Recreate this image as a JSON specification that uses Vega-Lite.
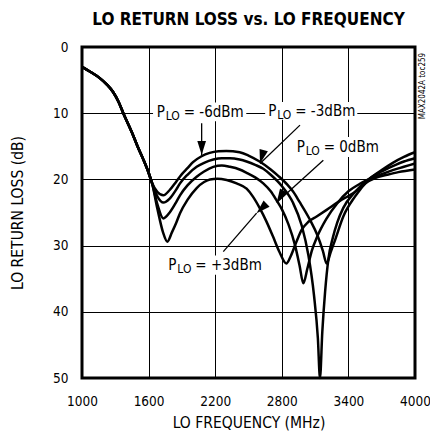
{
  "$schema": "https://vega.github.io/schema/vega-lite/v6.json",
  "width": 333,
  "height": 331,
  "autosize": {"type": "none"},
  "padding": {"left": 82, "top": 47, "right": 15, "bottom": 61},
  "background": "white",
  "title": {"text": "LO RETURN LOSS vs. LO FREQUENCY", "font": "DejaVu Sans Condensed", "fontSize": 17, "fontWeight": "bold", "color": "black", "anchor": "middle", "offset": 11},
  "config": {
    "font": "DejaVu Sans Condensed",
    "view": {"stroke": "black", "strokeWidth": 3},
    "axis": {"grid": true, "gridColor": "black", "gridOpacity": 1, "gridWidth": 1, "domain": false, "ticks": false, "labelFont": "DejaVu Sans Condensed", "labelFontSize": 13.5, "labelColor": "black", "titleFont": "DejaVu Sans Condensed", "titleFontSize": 15.5, "titleFontWeight": "normal", "titleColor": "black"}
  },
  "datasets": {
    "curves": [
      {"f":1000,"rl":3.0,"s":"-6"},{"f":1070,"rl":3.7,"s":"-6"},{"f":1160,"rl":4.7,"s":"-6"},{"f":1220,"rl":5.6,"s":"-6"},{"f":1280,"rl":6.8,"s":"-6"},{"f":1330,"rl":8.3,"s":"-6"},{"f":1372,"rl":10.0,"s":"-6"},{"f":1420,"rl":11.8,"s":"-6"},{"f":1462,"rl":13.4,"s":"-6"},{"f":1500,"rl":15.0,"s":"-6"},{"f":1550,"rl":16.9,"s":"-6"},{"f":1600,"rl":19.0,"s":"-6"},{"f":1630,"rl":20.5,"s":"-6"},
      {"f":1680,"rl":21.9,"s":"-6"},{"f":1733,"rl":22.4,"s":"-6"},{"f":1790,"rl":21.6,"s":"-6"},{"f":1850,"rl":20.3,"s":"-6"},{"f":1900,"rl":19.2,"s":"-6"},{"f":1950,"rl":18.3,"s":"-6"},{"f":2000,"rl":17.4,"s":"-6"},{"f":2077,"rl":16.5,"s":"-6"},{"f":2150,"rl":16.0,"s":"-6"},{"f":2230,"rl":15.75,"s":"-6"},{"f":2300,"rl":15.7,"s":"-6"},{"f":2420,"rl":15.9,"s":"-6"},{"f":2500,"rl":16.4,"s":"-6"},{"f":2600,"rl":17.3,"s":"-6"},{"f":2700,"rl":18.5,"s":"-6"},{"f":2770,"rl":19.5,"s":"-6"},{"f":2850,"rl":20.8,"s":"-6"},{"f":2900,"rl":21.8,"s":"-6"},{"f":2960,"rl":23.4,"s":"-6"},{"f":3054,"rl":26.1,"s":"-6"},{"f":3120,"rl":28.4,"s":"-6"},{"f":3170,"rl":30.8,"s":"-6"},{"f":3204,"rl":32.7,"s":"-6"},{"f":3240,"rl":31.0,"s":"-6"},{"f":3279,"rl":29.2,"s":"-6"},{"f":3354,"rl":25.6,"s":"-6"},{"f":3459,"rl":22.6,"s":"-6"},{"f":3580,"rl":20.1,"s":"-6"},{"f":3700,"rl":18.6,"s":"-6"},{"f":3800,"rl":17.5,"s":"-6"},{"f":3900,"rl":16.6,"s":"-6"},{"f":4000,"rl":15.9,"s":"-6"},

      {"f":1000,"rl":3.0,"s":"-3"},{"f":1070,"rl":3.7,"s":"-3"},{"f":1160,"rl":4.7,"s":"-3"},{"f":1220,"rl":5.6,"s":"-3"},{"f":1280,"rl":6.8,"s":"-3"},{"f":1330,"rl":8.3,"s":"-3"},{"f":1372,"rl":10.0,"s":"-3"},{"f":1420,"rl":11.8,"s":"-3"},{"f":1462,"rl":13.4,"s":"-3"},{"f":1500,"rl":15.0,"s":"-3"},{"f":1550,"rl":16.9,"s":"-3"},{"f":1600,"rl":19.0,"s":"-3"},{"f":1630,"rl":20.5,"s":"-3"},
      {"f":1680,"rl":22.6,"s":"-3"},{"f":1733,"rl":23.5,"s":"-3"},{"f":1790,"rl":22.9,"s":"-3"},{"f":1850,"rl":21.5,"s":"-3"},{"f":1883,"rl":20.6,"s":"-3"},{"f":1950,"rl":19.3,"s":"-3"},{"f":2033,"rl":18.1,"s":"-3"},{"f":2100,"rl":17.5,"s":"-3"},{"f":2183,"rl":17.0,"s":"-3"},{"f":2260,"rl":16.8,"s":"-3"},{"f":2333,"rl":16.8,"s":"-3"},{"f":2420,"rl":17.0,"s":"-3"},{"f":2483,"rl":17.3,"s":"-3"},{"f":2560,"rl":17.8,"s":"-3"},{"f":2633,"rl":18.4,"s":"-3"},{"f":2700,"rl":19.3,"s":"-3"},{"f":2800,"rl":21.0,"s":"-3"},{"f":2900,"rl":23.5,"s":"-3"},{"f":2980,"rl":27.0,"s":"-3"},{"f":3040,"rl":31.5,"s":"-3"},{"f":3090,"rl":37.5,"s":"-3"},{"f":3125,"rl":44.0,"s":"-3"},{"f":3144,"rl":50.0,"s":"-3"},{"f":3165,"rl":43.0,"s":"-3"},{"f":3190,"rl":37.0,"s":"-3"},{"f":3220,"rl":32.0,"s":"-3"},{"f":3260,"rl":28.8,"s":"-3"},{"f":3300,"rl":26.5,"s":"-3"},{"f":3354,"rl":24.3,"s":"-3"},{"f":3459,"rl":21.9,"s":"-3"},{"f":3580,"rl":20.0,"s":"-3"},{"f":3700,"rl":18.8,"s":"-3"},{"f":3800,"rl":18.0,"s":"-3"},{"f":3900,"rl":17.3,"s":"-3"},{"f":4000,"rl":16.8,"s":"-3"},

      {"f":1000,"rl":3.0,"s":"0"},{"f":1070,"rl":3.7,"s":"0"},{"f":1160,"rl":4.7,"s":"0"},{"f":1220,"rl":5.6,"s":"0"},{"f":1280,"rl":6.8,"s":"0"},{"f":1330,"rl":8.3,"s":"0"},{"f":1372,"rl":10.0,"s":"0"},{"f":1420,"rl":11.8,"s":"0"},{"f":1462,"rl":13.4,"s":"0"},{"f":1500,"rl":15.0,"s":"0"},{"f":1550,"rl":16.9,"s":"0"},{"f":1600,"rl":19.0,"s":"0"},{"f":1630,"rl":20.5,"s":"0"},
      {"f":1680,"rl":23.8,"s":"0"},{"f":1733,"rl":25.9,"s":"0"},{"f":1790,"rl":25.0,"s":"0"},{"f":1850,"rl":23.4,"s":"0"},{"f":1883,"rl":22.4,"s":"0"},{"f":1950,"rl":20.9,"s":"0"},{"f":2033,"rl":19.6,"s":"0"},{"f":2100,"rl":18.8,"s":"0"},{"f":2183,"rl":18.1,"s":"0"},{"f":2260,"rl":17.9,"s":"0"},{"f":2333,"rl":18.1,"s":"0"},{"f":2420,"rl":18.5,"s":"0"},{"f":2483,"rl":19.0,"s":"0"},{"f":2560,"rl":19.7,"s":"0"},{"f":2633,"rl":20.6,"s":"0"},{"f":2700,"rl":21.8,"s":"0"},{"f":2754,"rl":23.2,"s":"0"},{"f":2800,"rl":24.5,"s":"0"},{"f":2860,"rl":26.8,"s":"0"},{"f":2920,"rl":30.0,"s":"0"},{"f":2960,"rl":33.0,"s":"0"},{"f":2994,"rl":35.7,"s":"0"},{"f":3030,"rl":33.5,"s":"0"},{"f":3070,"rl":30.8,"s":"0"},{"f":3120,"rl":28.6,"s":"0"},{"f":3200,"rl":26.0,"s":"0"},{"f":3300,"rl":23.6,"s":"0"},{"f":3400,"rl":21.8,"s":"0"},{"f":3500,"rl":20.7,"s":"0"},{"f":3580,"rl":20.0,"s":"0"},{"f":3700,"rl":19.2,"s":"0"},{"f":3800,"rl":18.6,"s":"0"},{"f":3900,"rl":18.1,"s":"0"},{"f":4000,"rl":17.6,"s":"0"},

      {"f":1000,"rl":3.0,"s":"+3"},{"f":1070,"rl":3.7,"s":"+3"},{"f":1160,"rl":4.7,"s":"+3"},{"f":1220,"rl":5.6,"s":"+3"},{"f":1280,"rl":6.8,"s":"+3"},{"f":1330,"rl":8.3,"s":"+3"},{"f":1372,"rl":10.0,"s":"+3"},{"f":1420,"rl":11.8,"s":"+3"},{"f":1462,"rl":13.4,"s":"+3"},{"f":1500,"rl":15.0,"s":"+3"},{"f":1550,"rl":16.9,"s":"+3"},{"f":1600,"rl":19.0,"s":"+3"},{"f":1630,"rl":20.5,"s":"+3"},
      {"f":1680,"rl":24.5,"s":"+3"},{"f":1730,"rl":28.0,"s":"+3"},{"f":1769,"rl":29.4,"s":"+3"},{"f":1810,"rl":28.0,"s":"+3"},{"f":1850,"rl":26.5,"s":"+3"},{"f":1883,"rl":25.1,"s":"+3"},{"f":1950,"rl":23.1,"s":"+3"},{"f":2033,"rl":21.3,"s":"+3"},{"f":2100,"rl":20.4,"s":"+3"},{"f":2153,"rl":20.0,"s":"+3"},{"f":2220,"rl":19.9,"s":"+3"},{"f":2303,"rl":20.1,"s":"+3"},{"f":2393,"rl":20.6,"s":"+3"},{"f":2483,"rl":21.4,"s":"+3"},{"f":2540,"rl":22.6,"s":"+3"},{"f":2600,"rl":24.3,"s":"+3"},{"f":2660,"rl":26.3,"s":"+3"},{"f":2720,"rl":28.6,"s":"+3"},{"f":2780,"rl":31.0,"s":"+3"},{"f":2840,"rl":32.7,"s":"+3"},{"f":2880,"rl":31.6,"s":"+3"},{"f":2930,"rl":29.5,"s":"+3"},{"f":2980,"rl":27.6,"s":"+3"},{"f":3040,"rl":26.4,"s":"+3"},{"f":3114,"rl":25.6,"s":"+3"},{"f":3204,"rl":24.6,"s":"+3"},{"f":3309,"rl":23.4,"s":"+3"},{"f":3400,"rl":22.5,"s":"+3"},{"f":3459,"rl":21.9,"s":"+3"},{"f":3550,"rl":20.6,"s":"+3"},{"f":3640,"rl":19.8,"s":"+3"},{"f":3750,"rl":19.3,"s":"+3"},{"f":3850,"rl":18.9,"s":"+3"},{"f":4000,"rl":18.5,"s":"+3"}
    ],
    "labels": [
      {"s":"-6","f":1673,"rl":9.75,"t":"= -6dBm","bf":1640,"bf2":2480,"brl":8.4,"brl2":11.2},
      {"s":"-3","f":2678,"rl":9.6,"t":"= -3dBm","bf":2650,"bf2":3480,"brl":8.3,"brl2":11.0},
      {"s":"0","f":2934,"rl":15.05,"t":"= 0dBm","bf":2905,"bf2":3760,"brl":13.6,"brl2":16.6},
      {"s":"+3","f":1778,"rl":32.9,"t":"= +3dBm","bf":1745,"bf2":2600,"brl":31.5,"brl2":34.4}
    ],
    "arrows": [
      {"s":"-6","f":2078,"rl":11.5,"f2":2078,"rl2":16.3},
      {"s":"-3","f":2964,"rl":11.8,"f2":2604,"rl2":17.6},
      {"s":"0","f":3174,"rl":17.1,"f2":2754,"rl2":23.5},
      {"s":"+3","f":2273,"rl":30.9,"f2":2573,"rl2":25.1}
    ],
    "notes": [
      {"f":4072,"rl":5.9,"t":"MAX2042A toc259"}
    ]
  },
  "encoding": {
    "x": {"field":"f","type":"quantitative","scale":{"domain":[1000,4000],"nice":false,"zero":false},"axis":{"values":[1000,1600,2200,2800,3400,4000],"format":"d","title":"LO FREQUENCY (MHz)","labelPadding":16,"titlePadding":8,"labelFlush":false}},
    "y": {"field":"rl","type":"quantitative","scale":{"domain":[0,50],"reverse":true,"nice":false,"zero":false},"axis":{"values":[0,10,20,30,40,50],"format":"d","title":"LO RETURN LOSS (dB)","labelPadding":14,"titlePadding":27,"labelFlush":false}}
  },
  "layer": [
    {
      "data": {"name":"curves"},
      "mark": {"type":"line","color":"black","strokeWidth":2.5,"interpolate":"monotone"},
      "encoding": {"detail":{"field":"s","type":"nominal"},"order":{"field":"f","type":"quantitative"}}
    },
    {
      "data": {"name":"labels"},
      "mark": {"type":"rect","fill":"white","stroke":null},
      "encoding": {"x":{"field":"bf","type":"quantitative"},"x2":{"field":"bf2"},"y":{"field":"brl","type":"quantitative"},"y2":{"field":"brl2"}}
    },
    {
      "data": {"name":"labels"},
      "mark": {"type":"text","text":"P","align":"left","baseline":"middle","fontSize":15,"color":"black","font":"DejaVu Sans Condensed"}
    },
    {
      "data": {"name":"labels"},
      "mark": {"type":"text","text":"LO","align":"left","baseline":"middle","fontSize":12,"dx":9,"dy":4,"color":"black","font":"DejaVu Sans Condensed"}
    },
    {
      "data": {"name":"labels"},
      "mark": {"type":"text","align":"left","baseline":"middle","fontSize":15,"dx":27,"color":"black","font":"DejaVu Sans Condensed"},
      "encoding": {"text":{"field":"t","type":"nominal"}}
    },
    {
      "data": {"name":"arrows"},
      "mark": {"type":"rule","color":"black","strokeWidth":1.3},
      "encoding": {"x2":{"field":"f2"},"y2":{"field":"rl2"}}
    },
    {
      "data": {"name":"arrows"},
      "mark": {"type":"point","filled":true,"color":"black","opacity":1,"shape":"M0,0L0.5,1.6L-0.5,1.6Z","size":300,"strokeWidth":0},
      "encoding": {
        "x":{"field":"f2","type":"quantitative"},
        "y":{"field":"rl2","type":"quantitative"},
        "angle":{"field":"s","type":"nominal","scale":{"domain":["-6","-3","0","+3"],"range":[180,226,227,41]},"legend":null}
      }
    },
    {
      "data": {"name":"notes"},
      "mark": {"type":"text","angle":270,"align":"center","baseline":"middle","fontSize":8,"color":"black","font":"DejaVu Sans Condensed"},
      "encoding": {"text":{"field":"t","type":"nominal"}}
    }
  ]
}
